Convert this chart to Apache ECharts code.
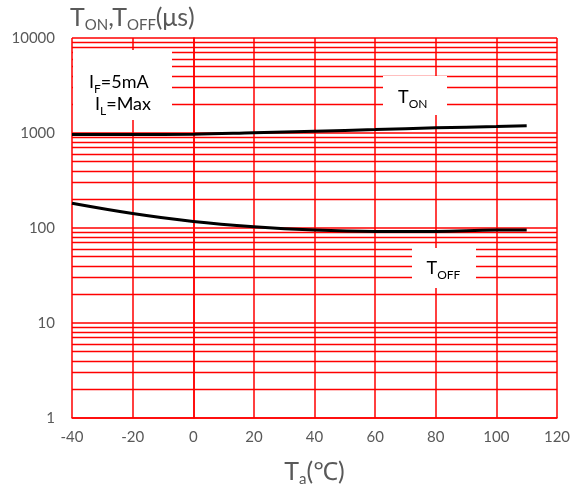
<!DOCTYPE html>
<html><head><meta charset="utf-8">
<script src="https://cdn.jsdelivr.net/npm/echarts@6/dist/echarts.min.js"></script>
<style>html,body{margin:0;padding:0;background:#fff}#c{width:582px;height:492px}</style>
</head><body><div id="c"></div>
<script>
// Data
const temps = [-40, -20, 0, 20, 40, 60, 80, 100, 110];
const tOn   = [964, 966, 971, 1005, 1044, 1088, 1134, 1170, 1190];
const tOff  = [182, 142, 117, 103, 95, 92, 92, 95, 95];
const xMin = -40, xMax = 120, xStep = 20;
const yMin = 1, yMax = 10000;
const minorY = [2,3,4,5,6,7,8,9, 20,30,40,50,60,70,80,90, 200,300,400,500,600,700,800,900, 2000,3000,4000,5000,6000,7000,8000,9000];

const FONT = 'Lato, "Noto Sans", "Noto Sans CJK SC", sans-serif';
const RED = '#ff0000';
const GRAY = '#595959';

const chart = echarts.init(document.getElementById('c'), null, {renderer: 'canvas'});

const richText = (text, x, y, size, sub, lh, color, z) => ({
  type: 'text', x: x, y: y, z: z,
  style: {
    text: text, fontSize: size, fontFamily: FONT, fill: color, lineHeight: lh,
    align: 'left', verticalAlign: 'top',
    rich: {
      s: {fontSize: sub, fontFamily: FONT, lineHeight: sub, verticalAlign: 'bottom', fill: color}
    }
  }
});
const boxText = (text, x, y) => richText(text, x, y, 18, 12, 26, '#000', 101);
const whiteBox = (x, y, w, h) => ({
  type: 'rect', z: 100, shape: {x: x, y: y, width: w, height: h}, style: {fill: '#fff'}
});

chart.setOption({
  animation: false,
  backgroundColor: '#fff',
  grid: {left: 72, right: 25, top: 38, bottom: 73, containLabel: false},
  xAxis: {
    type: 'value', min: xMin, max: xMax, interval: xStep,
    name: 'T{s|a}(℃)', nameLocation: 'middle', nameGap: 39,
    nameTextStyle: {
      fontSize: 25, fontFamily: FONT, color: GRAY, lineHeight: 30,
      rich: {s: {fontSize: 15, fontFamily: FONT, color: GRAY, lineHeight: 15, verticalAlign: 'bottom'}}
    },
    axisLine: {show: true, lineStyle: {color: RED, width: 1.5}},
    axisTick: {show: false},
    axisLabel: {fontSize: 15, fontFamily: FONT, color: GRAY, margin: 12},
    splitLine: {show: true, lineStyle: {color: RED, width: 1.5}}
  },
  yAxis: {
    type: 'log', logBase: 10, min: yMin, max: yMax,
    axisLine: {show: true, lineStyle: {color: RED, width: 1.5}},
    axisTick: {show: false},
    axisLabel: {fontSize: 15, fontFamily: FONT, color: GRAY, margin: 17, formatter: v => String(v)},
    splitLine: {show: true, lineStyle: {color: RED, width: 1.5}}
  },
  series: [
    {
      name: 'TON', type: 'line', smooth: 0.4, symbol: 'none', z: 3,
      lineStyle: {color: '#000', width: 3},
      data: temps.map((t, i) => [t, tOn[i]])
    },
    {
      name: 'TOFF', type: 'line', smooth: 0.4, symbol: 'none', z: 3,
      lineStyle: {color: '#000', width: 3},
      data: temps.map((t, i) => [t, tOff[i]]),
      markLine: {
        silent: true, z: 1, symbol: ['none', 'none'], animation: false,
        label: {show: false},
        lineStyle: {color: RED, width: 1.3, type: 'solid'},
        emphasis: {disabled: true},
        data: minorY.map(v => ({yAxis: v}))
      }
    }
  ],
  graphic: [
    richText('T{s|ON},T{s|OFF}(μs)', 70, 2.5, 25, 15, 30, GRAY, 101),
    whiteBox(73, 50, 99, 70),
    boxText('I{s|F}=5mA', 89, 69.6),
    boxText('I{s|L}=Max', 95, 91.6),
    whiteBox(383, 76, 64, 39),
    boxText('T{s|ON}', 398, 84),
    whiteBox(412, 248, 64, 40),
    boxText('T{s|OFF}', 426.5, 255.6)
  ]
});
</script>
</body></html>
